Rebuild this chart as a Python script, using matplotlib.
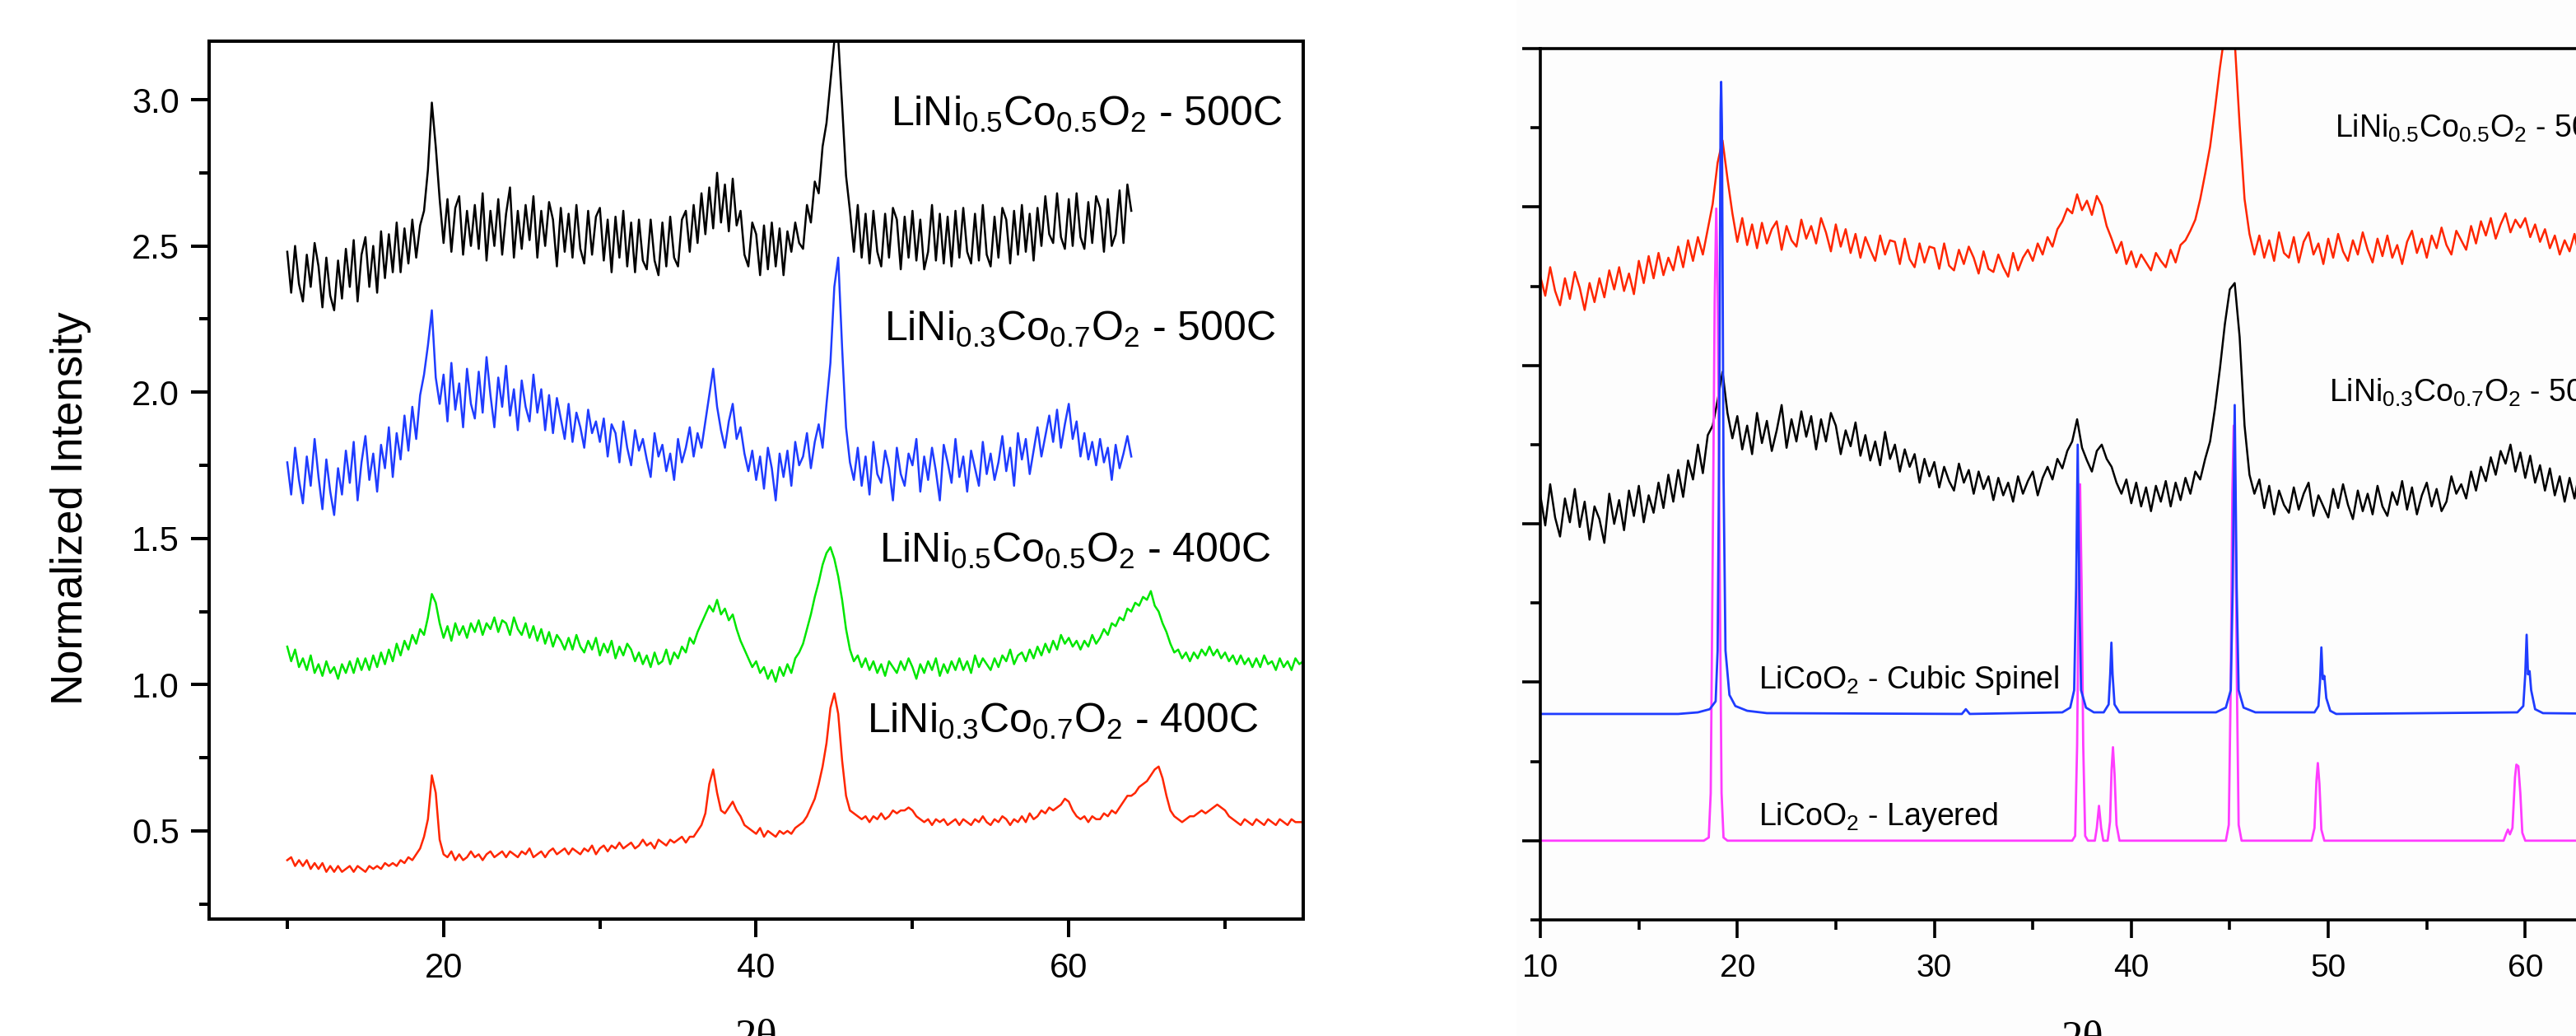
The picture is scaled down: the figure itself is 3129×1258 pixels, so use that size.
import numpy as np
import matplotlib
matplotlib.use('Agg')
import matplotlib.pyplot as plt
from matplotlib.patches import Rectangle

plt.rcParams['font.family'] = ['Liberation Sans', 'DejaVu Sans']
plt.rcParams['mathtext.fontset'] = 'custom'
plt.rcParams['mathtext.rm'] = 'Liberation Sans'
plt.rcParams['mathtext.it'] = 'Liberation Sans:italic'
plt.rcParams['mathtext.bf'] = 'Liberation Sans:bold'
plt.rcParams['mathtext.default'] = 'regular'

# ---------------- data ----------------
# Left panel: 2theta from 10 deg in 0.25 deg steps; intensities in hundredths
theta_start = 10.0
theta_step = 0.25

left_black_500C_Ni05 = [
    248, 234, 250, 237, 231, 247, 236, 251, 243, 229, 246, 233, 228, 245, 232, 249,
    236, 252, 231, 247, 253, 236, 250, 234, 255, 239, 254, 241, 258, 241, 256, 244,
    259, 246, 257, 262, 276, 299, 284, 266, 251, 266, 248, 263, 267, 247, 262, 250,
    264, 249, 268, 245, 262, 250, 266, 247, 261, 270, 246, 262, 249, 264, 252, 267,
    246, 262, 250, 265, 259, 243, 263, 248, 261, 246, 264, 249, 244, 262, 247, 260,
    263, 245, 259, 241, 260, 246, 262, 243, 258, 241, 259, 245, 242, 259, 245, 240,
    258, 243, 260, 246, 243, 259, 262, 248, 264, 251, 268, 254, 270, 256, 275, 258,
    271, 255, 273, 257, 262, 247, 243, 258, 254, 240, 257, 242, 258, 243, 256, 240,
    255, 248, 258, 251, 249, 264, 258, 272, 268, 284, 292, 306, 320, 321, 298, 274,
    262, 248, 264, 246, 261, 244, 262, 248, 243, 261, 246, 263, 259, 242, 260, 246,
    262, 245, 259, 242, 248, 264, 245, 261, 244, 260, 243, 262, 246, 263, 248, 244,
    261, 245, 264, 247, 243, 260, 246, 263, 259, 244, 262, 247, 264, 248, 261, 245,
    263, 250, 267, 254, 251, 268, 253, 249, 266, 250, 268, 253, 249, 265, 251, 267,
    263, 248, 266, 250, 254, 269, 251, 271, 262]

left_blue_500C_Ni03 = [
    176, 165, 181, 170, 162, 178, 168, 184, 171, 160, 177, 166, 158, 174, 165, 180,
    169, 183, 163, 176, 185, 170, 179, 166, 182, 174, 188, 171, 186, 177, 192, 180,
    195, 184, 199, 206, 216, 228, 205, 196, 206, 190, 210, 194, 203, 188, 208, 196,
    191, 207, 193, 212, 199, 188, 205, 195, 209, 192, 201, 187, 204, 195, 190, 206,
    193, 201, 187, 199, 186, 198, 191, 184, 196, 183, 193, 188, 181, 194, 186, 190,
    183, 191, 178, 189, 186, 176, 190, 181, 175, 187, 180, 184, 177, 171, 186, 178,
    182, 173, 179, 170, 184, 176, 181, 188, 178, 186, 181, 190, 199, 208, 195, 187,
    181, 190, 196, 184, 188, 179, 173, 180, 170, 178, 167, 181, 174, 163, 179, 171,
    180, 168, 183, 175, 178, 186, 174, 183, 189, 181, 196, 210, 236, 246, 215, 188,
    176, 170, 181, 168, 178, 165, 183, 172, 169, 180, 174, 163, 181, 172, 168, 179,
    175, 184, 166, 178, 170, 181, 173, 163, 182, 176, 169, 184, 171, 178, 166, 180,
    174, 168, 183, 172, 179, 170, 176, 185, 173, 181, 168, 186, 177, 184, 172, 180,
    188, 178, 185, 192, 183, 194, 181, 189, 196, 184, 190, 178, 186, 177, 183, 175,
    184, 176, 181, 170, 182, 174, 179, 185, 178]

left_green_400C_Ni05 = [
    113, 108, 112, 106, 109, 105, 110, 104, 107, 103, 108, 104, 106, 102, 107, 104,
    108, 104, 109, 105, 109, 105, 110, 106, 111, 107, 112, 108, 114, 110, 115, 112,
    117, 114, 119, 117, 123, 131, 128, 121, 116, 120, 115, 121, 117, 120, 116, 121,
    118, 122, 117, 121, 119, 123, 118, 122, 121, 117, 123, 119, 117, 121, 116, 120,
    115, 119, 114, 118, 113, 117, 115, 112, 116, 112, 117, 113, 111, 115, 112, 116,
    110, 114, 111, 115, 109, 113, 110, 114, 112, 108, 111, 107, 110, 106, 111, 107,
    108, 112, 107, 111, 109, 113, 111, 116, 114, 118, 121, 124, 127, 125, 129, 124,
    126, 122, 124, 119, 115, 112, 109, 106, 108, 104, 106, 102, 105, 101, 106, 103,
    107, 104, 109, 111, 114, 119, 124, 130, 135, 141, 145, 147, 143, 137, 129, 119,
    112, 108, 110, 106, 109, 105, 108, 104, 107, 103, 108, 106, 104, 108, 105, 109,
    106, 102, 107, 104, 108, 105, 109, 103, 107, 104, 108, 105, 109, 105, 108, 104,
    110, 106, 109, 107, 105, 109, 106, 110, 108, 112, 107, 110, 111, 108, 112, 109,
    113, 110, 114, 111, 115, 112, 117, 114, 116, 113, 115, 112, 115, 113, 117, 114,
    116, 119, 117, 121, 120, 123, 122, 126, 125, 128, 127, 130, 129, 132, 127, 125,
    121, 118, 114, 111, 112, 109, 111, 108, 111, 109, 112, 110, 113, 110, 112, 109,
    111, 108, 110, 107, 110, 107, 109, 106, 109, 106, 110, 107, 108, 105, 109, 106,
    108, 105, 109, 107, 108]

left_red_400C_Ni03 = [
    40, 41, 38, 40, 38, 40, 37, 39, 37, 39, 36, 38, 36, 38, 36, 37,
    38, 36, 38, 37, 36, 38, 37, 38, 37, 39, 38, 39, 38, 40, 39, 41,
    40, 42, 44, 48, 54, 69, 63, 47, 42, 41, 43, 40, 42, 40, 41, 43,
    41, 42, 40, 42, 43, 41, 42, 43, 41, 43, 42, 41, 43, 42, 44, 41,
    42, 43, 41, 43, 44, 42, 43, 44, 42, 44, 43, 42, 44, 43, 45, 42,
    44, 45, 43, 45, 44, 46, 44, 45, 46, 44, 45, 47, 45, 46, 44, 47,
    46, 45, 47, 46, 47, 48, 46, 48, 48, 50, 52, 56, 66, 71, 63, 57,
    56, 58, 60, 57, 55, 52, 51, 50, 49, 51, 48, 50, 49, 48, 50, 49,
    50, 49, 51, 52, 53, 55, 58, 61, 66, 72, 80, 92, 97, 90, 74, 62,
    57, 56, 55, 54, 55, 53, 55, 54, 56, 54, 55, 57, 56, 57, 57, 58,
    57, 55, 54, 53, 54, 52, 54, 53, 54, 52, 53, 54, 52, 54, 53, 52,
    54, 53, 55, 53, 52, 54, 53, 55, 54, 52, 54, 53, 55, 53, 56, 54,
    55, 57, 56, 58, 57, 58, 59, 61, 60, 57, 55, 54, 55, 53, 55, 54,
    54, 56, 55, 57, 56, 58, 60, 62, 62, 63, 65, 66, 67, 69, 71, 72,
    68, 62, 57, 55, 54, 53, 54, 55, 55, 56, 57, 56, 57, 58, 59, 58,
    57, 55, 54, 53, 52, 54, 53, 52, 54, 53, 52, 54, 53, 52, 54, 53,
    52, 54, 53, 53, 53]

left_labels = ['LiNi$_{0.5}$Co$_{0.5}$O$_{2}$ - 500C',
               'LiNi$_{0.3}$Co$_{0.7}$O$_{2}$ - 500C',
               'LiNi$_{0.5}$Co$_{0.5}$O$_{2}$ - 400C',
               'LiNi$_{0.3}$Co$_{0.7}$O$_{2}$ - 400C']

# Right panel: noisy traces (hundredths of one major-tick unit), 10 deg, 0.25 deg steps
right_red_500C_Ni05 = [
    356, 344, 362, 347, 338, 355, 342, 359, 349, 335, 352, 340, 355, 343, 360, 348,
    362, 347, 358, 345, 366, 352, 369, 355, 371, 357, 368, 360, 375, 362, 379, 366,
    381, 370, 386, 402, 428, 442, 418, 396, 378, 393, 376, 389, 374, 390, 377, 386,
    391, 373, 388, 379, 375, 392, 380, 388, 377, 393, 384, 372, 389, 375, 386, 371,
    383, 368, 381, 373, 366, 382, 370, 379, 378, 364, 380, 367, 362, 377, 365, 375,
    374, 361, 377, 363, 360, 373, 364, 375, 368, 358, 372, 361, 359, 370, 362, 356,
    371, 360, 368, 373, 366, 377, 370, 381, 375, 386, 391, 399, 396, 408, 398, 404,
    395, 407, 401, 388, 380, 371, 378, 364, 372, 362, 370, 365, 360, 371, 366, 362,
    373, 365, 376, 379, 385, 392, 405, 421, 438, 462, 488, 510, 512, 505, 452, 405,
    383, 370, 382, 368, 379, 366, 384, 371, 368, 381, 365, 378, 384, 370, 377, 364,
    380, 368, 383, 372, 366, 379, 370, 384, 373, 365, 380, 369, 382, 368, 376, 364,
    378, 385, 371, 380, 368, 382, 374, 387, 376, 370, 385, 379, 373, 388, 377, 391,
    382, 393, 380, 389, 396, 384, 392, 387, 393, 381, 389, 378, 386, 374, 382, 370,
    379, 372, 383, 368, 376, 382, 371, 384, 375, 381, 370, 379, 376]

right_black_500C_Ni03 = [
    218, 199, 225, 204, 192, 216, 201, 222, 198, 214, 190, 211, 203, 188, 219, 200,
    215, 196, 221, 205, 224, 201, 218, 207, 226, 210, 231, 214, 234, 217, 240, 228,
    250, 232, 256, 262, 278, 296, 270, 254, 268, 247, 262, 244, 270, 251, 265, 246,
    259, 275, 248, 266, 252, 271, 255, 268, 247, 266, 252, 270, 262, 244, 259, 249,
    264, 243, 256, 240, 252, 237, 258, 241, 250, 233, 247, 236, 244, 226, 241, 230,
    239, 223, 236, 227, 221, 238, 226, 234, 219, 233, 222, 230, 215, 229, 218, 226,
    214, 230, 219, 227, 233, 218, 229, 236, 228, 241, 235, 246, 252, 266, 248, 240,
    233, 246, 250, 241, 236, 226, 219, 228, 213, 226, 211, 223, 208, 224, 214, 227,
    211, 226, 215, 229, 219, 233, 228, 241, 252, 273, 298, 326, 348, 352, 318, 262,
    231, 219, 228, 210, 224, 206, 221, 212, 207, 223, 209, 219, 226, 205, 218, 211,
    204, 222, 210, 225, 212, 203, 221, 208, 219, 206, 224, 211, 205, 220, 212, 227,
    209, 223, 206, 218, 226, 211, 222, 208, 214, 230, 219, 225, 216, 233, 221, 236,
    227, 242, 231, 246, 238, 250, 233, 245, 229, 243, 226, 237, 221, 235, 218, 230,
    214, 229, 216, 233, 219, 211, 228, 215, 225, 212, 229, 216, 222]

# Right panel: reference patterns
spinel_tt = [10.0, 17.0, 18.0, 18.6, 18.9, 19.0, 19.08, 19.15, 19.18, 19.22, 19.3, 19.4,
             19.6, 19.9, 20.5, 21.5, 31.4, 31.6, 31.8, 36.5, 36.9, 37.1, 37.2, 37.28,
             37.36, 37.45, 37.7, 38.1, 38.6, 38.85, 38.93, 38.99, 39.05, 39.15, 39.4,
             44.3, 44.8, 45.05, 45.15, 45.25, 45.35, 45.45, 45.7, 46.3, 49.3, 49.5,
             49.58, 49.65, 49.72, 49.8, 49.9, 50.1, 50.4, 59.6, 59.9, 60.0, 60.07,
             60.14, 60.22, 60.3, 60.5, 60.9, 65.0]
spinel_int = [0.80, 0.80, 0.81, 0.83, 0.88, 1.20, 2.50, 4.60, 4.79, 4.50, 2.30, 1.20,
              0.92, 0.85, 0.82, 0.805, 0.80, 0.83, 0.80, 0.81, 0.84, 0.95, 1.60, 2.50,
              1.60, 0.95, 0.84, 0.81, 0.81, 0.86, 1.05, 1.25, 1.05, 0.86, 0.81,
              0.81, 0.84, 0.95, 1.60, 2.75, 1.60, 0.95, 0.84, 0.81, 0.81, 0.85,
              1.00, 1.22, 1.02, 1.04, 0.90, 0.82, 0.80, 0.81, 0.85, 1.05, 1.30,
              1.05, 1.07, 0.95, 0.83, 0.805, 0.80]

layered_tt = [10.0, 18.3, 18.55, 18.65, 18.75, 18.85, 18.93, 19.0, 19.1, 19.2, 19.3, 19.5,
              37.0, 37.15, 37.25, 37.33, 37.4, 37.48, 37.56, 37.66, 37.8,
              38.15, 38.25, 38.36, 38.47, 38.58, 38.8, 38.92, 39.0, 39.07, 39.15, 39.25, 39.4,
              44.8, 44.95, 45.05, 45.13, 45.2, 45.28, 45.36, 45.45, 45.6,
              49.15, 49.3, 49.4, 49.47, 49.55, 49.65, 49.8,
              58.9, 59.05, 59.12, 59.22, 59.35, 59.48, 59.55, 59.65, 59.75, 59.85, 60.0, 65.0]
layered_int = [0.0, 0.0, 0.02, 0.30, 1.80, 3.40, 3.99, 3.50, 1.80, 0.30, 0.02, 0.0,
               0.0, 0.03, 0.60, 1.60, 2.25, 1.60, 0.60, 0.03, 0.0,
               0.0, 0.08, 0.22, 0.08, 0.0, 0.0, 0.12, 0.45, 0.59, 0.42, 0.10, 0.0,
               0.0, 0.10, 1.00, 2.20, 2.62, 2.20, 1.00, 0.10, 0.0,
               0.0, 0.08, 0.38, 0.49, 0.36, 0.07, 0.0,
               0.0, 0.05, 0.07, 0.04, 0.08, 0.40, 0.48, 0.47, 0.30, 0.05, 0.0, 0.0]

right_labels = ['LiNi$_{0.5}$Co$_{0.5}$O$_{2}$ - 500C',
                'LiNi$_{0.3}$Co$_{0.7}$O$_{2}$ - 500C',
                'LiCoO$_{2}$ - Cubic Spinel',
                'LiCoO$_{2}$ - Layered']

left_xticks = [20, 40, 60]
left_xminor = [10, 30, 50, 70]
left_yticks = [0.5, 1.0, 1.5, 2.0, 2.5, 3.0]
left_yminor = [0.25, 0.75, 1.25, 1.75, 2.25, 2.75]
right_xticks = [10, 20, 30, 40, 50, 60]
right_xminor = [15, 25, 35, 45, 55, 65]
right_yticks = [0, 1, 2, 3, 4, 5]
right_yminor = [-0.5, 0.5, 1.5, 2.5, 3.5, 4.5]


def grid(vals):
    return theta_start + theta_step * np.arange(len(vals))


def hund(vals):
    return np.asarray(vals, dtype=float) / 100.0


# ---------------- figure ----------------
W, H = 3129, 1258
fig = plt.figure(figsize=(W / 100, H / 100), dpi=100)
fig.patch.set_facecolor('white')
fig.patches.append(Rectangle((1842 / W, 0), 1, 1, transform=fig.transFigure,
                             facecolor='#fdfdfd', edgecolor='none', zorder=-10))

C_BLACK = '#000000'
C_BLUE = '#1f3cff'
C_GREEN = '#00e600'
C_RED = '#ff2600'
C_MAG = '#ff3cff'
SPW = 2.9

# ---- left panel ----
ax1 = fig.add_axes([254 / W, 1 - 1115.5 / H, (1583 - 254) / W, (1115.5 - 50) / H])
lw = 1.8
ax1.plot(grid(left_black_500C_Ni05), hund(left_black_500C_Ni05), color=C_BLACK, lw=lw)
ax1.plot(grid(left_blue_500C_Ni03), hund(left_blue_500C_Ni03), color=C_BLUE, lw=lw)
ax1.plot(grid(left_green_400C_Ni05), hund(left_green_400C_Ni05), color=C_GREEN, lw=lw)
ax1.plot(grid(left_red_400C_Ni03), hund(left_red_400C_Ni03), color=C_RED, lw=lw)
ax1.set_xlim(5, 75)
ax1.set_ylim(0.2, 3.2)
ax1.set_xticks(left_xticks)
ax1.set_xticks(left_xminor, minor=True)
ax1.set_yticks(left_yticks)
ax1.set_yticks(left_yminor, minor=True)
ax1.yaxis.set_major_formatter('{x:.1f}')
ax1.tick_params(which='both', direction='out', width=SPW, top=False, right=False)
ax1.tick_params(which='major', length=16, labelsize=30)
ax1.tick_params(which='minor', length=8.6)
ax1.tick_params(axis='y', pad=10)
ax1.tick_params(axis='x', pad=13)
for s in ax1.spines.values():
    s.set_linewidth(SPW)

left_text_pos = [(48.6, 2.91), (48.2, 2.175), (47.9, 1.418), (47.1, 0.835)]
for (tx, ty), lab in zip(left_text_pos, left_labels):
    ax1.text(tx, ty, lab, fontsize=36, ha='left', va='baseline')

ax1.set_xlabel('2θ', fontsize=38, family=['Liberation Serif', 'DejaVu Serif'])
ax1.xaxis.set_label_coords(0.5, -0.114)
fig.text(86 / W, 1 - 617 / H, 'Normalized Intensity', rotation=90, fontsize=38,
         ha='center', va='center')

# ---- right panel ----
ax2 = fig.add_axes([1871 / W, 1 - 1117 / H, (3187 - 1871) / W, (1117 - 59) / H])
ax2.set_facecolor('none')
ax2.plot(grid(right_red_500C_Ni05), hund(right_red_500C_Ni05), color=C_RED, lw=lw)
ax2.plot(grid(right_black_500C_Ni03), hund(right_black_500C_Ni03), color=C_BLACK, lw=lw)
ax2.plot(layered_tt, layered_int, color=C_MAG, lw=2.0)
ax2.plot(spinel_tt, spinel_int, color=C_BLUE, lw=2.0)
ax2.set_xlim(10, 65)
ax2.set_ylim(-0.5, 5.0)
ax2.set_xticks(right_xticks)
ax2.set_xticks(right_xminor, minor=True)
ax2.set_yticks(right_yticks)
ax2.set_yticks(right_yminor, minor=True)
ax2.tick_params(which='both', direction='out', width=2.6, top=False, right=False,
                labelleft=False)
ax2.tick_params(which='major', length=15.5, labelsize=28, pad=14)
ax2.tick_params(which='minor', length=8.6)
for s in ax2.spines.values():
    s.set_linewidth(2.6)

right_text_pos = [(50.33, 4.44), (50.03, 2.77), (21.07, 0.96), (21.07, 0.10)]
for (tx, ty), lab in zip(right_text_pos, right_labels):
    ax2.text(tx, ty, lab, fontsize=27, ha='left', va='baseline')

ax2.set_xlabel('2θ', fontsize=38, family=['Liberation Serif', 'DejaVu Serif'])
ax2.xaxis.set_label_coords(0.5, -0.1153)

fig.savefig('out.png', dpi=100)
